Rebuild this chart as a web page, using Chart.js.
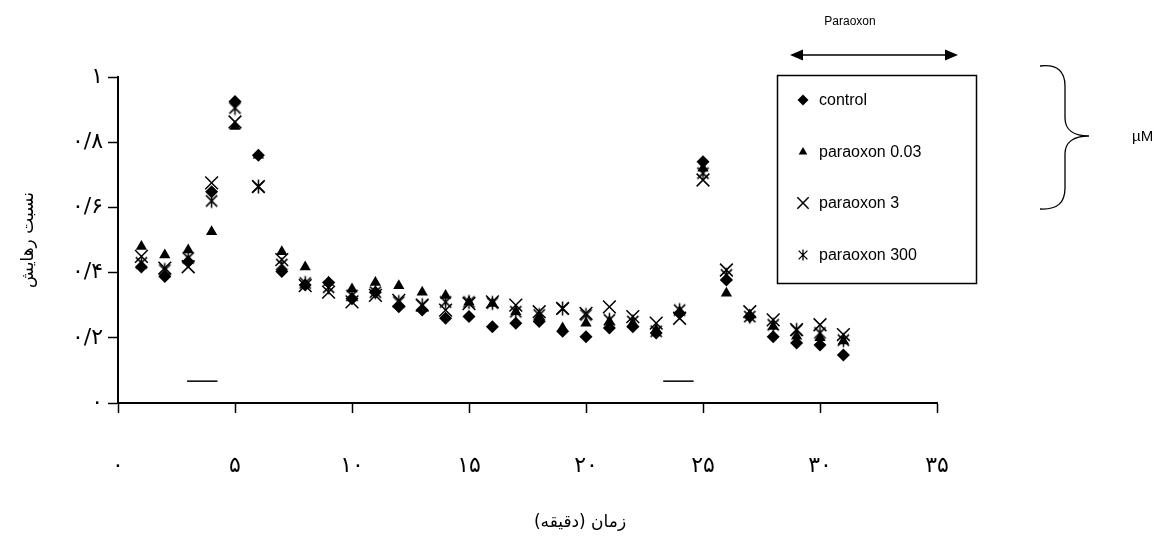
<!DOCTYPE html>
<html>
<head>
<meta charset="utf-8">
<script src="https://cdn.jsdelivr.net/npm/chart.js@4/dist/chart.umd.min.js"></script>
<style>
  html, body { margin: 0; padding: 0; background: #fff; }
  #chart { display: block; }
</style>
</head>
<body>
<canvas id="chart" width="1170" height="553"></canvas>
<script>
// time (minutes)
const minutes = [1, 2, 3, 4, 5, 6, 7, 8, 9, 10, 11, 12, 13, 14, 15, 16,
    17, 18, 19, 20, 21, 22, 23, 24, 25, 26, 27, 28, 29, 30, 31];

const control = [0.417, 0.388, 0.433, 0.648, 0.925, 0.76, 0.403, 0.362, 0.37, 0.32, 0.34,
    0.295, 0.285, 0.26, 0.265, 0.234, 0.245, 0.25, 0.22, 0.203, 0.23, 0.234, 0.215, 0.275,
    0.74, 0.377, 0.265, 0.203, 0.184, 0.178, 0.147];
const paraoxon003 = [0.48, 0.454, 0.469, 0.525, 0.848, 0.76, 0.464, 0.417, 0.37, 0.35, 0.37,
    0.36, 0.34, 0.33, 0.31, 0.305, 0.28, 0.265, 0.23, 0.245, 0.25, 0.245, 0.225, 0.28,
    0.72, 0.337, 0.27, 0.235, 0.205, 0.2, 0.19];
const paraoxon3 = [0.45, 0.414, 0.418, 0.675, 0.862, 0.664, 0.44, 0.36, 0.34, 0.31, 0.33,
    0.315, 0.30, 0.285, 0.305, 0.31, 0.30, 0.28, 0.29, 0.275, 0.295, 0.265, 0.245, 0.26,
    0.684, 0.408, 0.28, 0.255, 0.225, 0.24, 0.21];
const paraoxon300 = [0.43, 0.408, 0.445, 0.62, 0.905, 0.664, 0.425, 0.368, 0.355, 0.33, 0.34,
    0.31, 0.30, 0.31, 0.31, 0.307, 0.28, 0.27, 0.29, 0.27, 0.255, 0.25, 0.22, 0.285,
    0.705, 0.393, 0.265, 0.24, 0.224, 0.215, 0.193];

const seriesNames = ["control", "paraoxon 0.03", "paraoxon 3", "paraoxon 300"];

// stimulation bars (start, end minute) and their level
const stimulus1 = [2.95, 4.25];
const stimulus2 = [23.3, 24.6];
const stimulusLevel = 0.067;

const xTickLabels = ["۰", "۵", "۱۰", "۱۵", "۲۰", "۲۵", "۳۰", "۳۵"];
const yTickLabels = ["۰", "۰/۲", "۰/۴", "۰/۶", "۰/۸", "۱"];

const xTitle = "زمان (دقیقه)";
const yTitle = "نسبت رهایش";

const persianFont = '"DejaVu Sans", sans-serif';
const latinFont = '"Liberation Sans", Arial, sans-serif';

// asterisk marker (x with a vertical bar), like the Excel star
function makeStar(r, lw) {
    const c = document.createElement("canvas");
    const s = Math.ceil(r * 2 + lw * 2);
    c.width = s;
    c.height = s;
    const g = c.getContext("2d");
    const m = s / 2;
    const d = r * 0.8;
    g.strokeStyle = "#000";
    g.lineWidth = lw;
    g.beginPath();
    g.moveTo(m - d, m - d); g.lineTo(m + d, m + d);
    g.moveTo(m + d, m - d); g.lineTo(m - d, m + d);
    g.moveTo(m, m - r); g.lineTo(m, m + r);
    g.stroke();
    return c;
}
const starBig = makeStar(7, 1.5);
const starSmall = makeStar(5.5, 1.3);

function pts(values) {
    return minutes.map((m, i) => ({ x: m, y: values[i] }));
}

const markerStyles = [
    { pointStyle: "rectRot", radius: 6.5, borderWidth: 0, legendRadius: 5.5 },
    { pointStyle: "triangle", radius: 6.5, borderWidth: 0, legendRadius: 5 },
    { pointStyle: "crossRot", radius: 9, borderWidth: 1.5, legendRadius: 8 },
    { pointStyle: starBig, radius: 7, borderWidth: 1.5, legendStyle: starSmall, legendRadius: 6 },
];

const seriesValues = [control, paraoxon003, paraoxon3, paraoxon300];

const datasets = seriesValues.map((vals, i) => ({
    label: seriesNames[i],
    data: pts(vals),
    pointStyle: markerStyles[i].pointStyle,
    pointRadius: markerStyles[i].radius,
    pointBorderWidth: markerStyles[i].borderWidth,
    backgroundColor: "#000",
    borderColor: "#000",
    showLine: false,
}));

[stimulus1, stimulus2].forEach((s) => {
    datasets.push({
        label: "stimulus",
        data: s.map((x) => ({ x: x, y: stimulusLevel })),
        showLine: true,
        borderColor: "#000",
        borderWidth: 1.5,
        pointRadius: 0,
    });
});

// legend box, arrow, brace and free text
const annotations = {
    id: "annotations",
    afterDraw(chart) {
        const ctx = chart.ctx;
        ctx.save();
        ctx.fillStyle = "#000";
        ctx.strokeStyle = "#000";

        // legend
        ctx.lineWidth = 1.5;
        ctx.strokeRect(777.5, 75.5, 199, 208);
        const rows = [100, 152, 203, 255];
        seriesNames.forEach((name, i) => {
            const st = markerStyles[i];
            ctx.lineWidth = st.borderWidth || 1;
            Chart.helpers.drawPoint(ctx, {
                pointStyle: st.legendStyle || st.pointStyle,
                radius: st.legendRadius,
                rotation: 0,
                borderWidth: st.borderWidth,
            }, 803, rows[i]);
            ctx.font = "16px " + latinFont;
            ctx.textAlign = "left";
            ctx.textBaseline = "middle";
            ctx.fillText(name, 819, rows[i] + 1);
        });

        // double arrow
        ctx.lineWidth = 1.5;
        ctx.beginPath();
        ctx.moveTo(798, 55);
        ctx.lineTo(950, 55);
        ctx.stroke();
        ctx.beginPath();
        ctx.moveTo(790, 55); ctx.lineTo(803, 49.5); ctx.lineTo(803, 60.5);
        ctx.closePath();
        ctx.fill();
        ctx.beginPath();
        ctx.moveTo(958, 55); ctx.lineTo(945, 49.5); ctx.lineTo(945, 60.5);
        ctx.closePath();
        ctx.fill();

        ctx.font = "12px " + latinFont;
        ctx.textAlign = "center";
        ctx.textBaseline = "middle";
        ctx.fillText("Paraoxon", 850, 22);

        // curly brace
        ctx.lineWidth = 1.3;
        ctx.beginPath();
        ctx.moveTo(1040, 66);
        ctx.bezierCurveTo(1058, 64, 1065, 72, 1065, 86);
        ctx.lineTo(1065, 118);
        ctx.bezierCurveTo(1065, 130, 1074, 136, 1089, 136);
        ctx.moveTo(1089, 136);
        ctx.bezierCurveTo(1074, 136, 1065, 142, 1065, 154);
        ctx.lineTo(1065, 188);
        ctx.bezierCurveTo(1065, 202, 1058, 210, 1040, 209);
        ctx.stroke();

        ctx.font = "15px " + latinFont;
        ctx.textAlign = "left";
        ctx.fillText("µM", 1132, 137);

        // x axis title
        ctx.font = "17px " + persianFont;
        ctx.direction = "rtl";
        ctx.textAlign = "center";
        ctx.fillText(xTitle, 580, 523);
        ctx.restore();
    },
};

new Chart(document.getElementById("chart"), {
    type: "scatter",
    data: { datasets: datasets },
    options: {
        responsive: false,
        animation: false,
        layout: { padding: { left: 0, top: 77, right: 233, bottom: 0 } },
        plugins: {
            legend: { display: false },
            tooltip: { enabled: false },
        },
        scales: {
            x: {
                type: "linear",
                min: 0,
                max: 35,
                afterFit: (scale) => { scale.height = 150; },
                ticks: {
                    stepSize: 5,
                    color: "#000",
                    padding: 40,
                    maxRotation: 0,
                    font: { size: 22, family: persianFont },
                    callback: (v) => xTickLabels[Math.round(v / 5)],
                },
                grid: {
                    drawOnChartArea: false,
                    tickLength: 10,
                    tickWidth: 1.5,
                    color: "#000",
                },
                border: { color: "#000", width: 2 },
            },
            y: {
                min: 0,
                max: 1,
                afterFit: (scale) => { scale.width = 118; },
                ticks: {
                    stepSize: 0.2,
                    color: "#000",
                    padding: 5,
                    font: { size: 22, family: persianFont },
                    callback: (v) => yTickLabels[Math.round(v * 5)],
                },
                grid: {
                    drawOnChartArea: false,
                    tickLength: 10,
                    tickWidth: 1.5,
                    color: "#000",
                },
                border: { color: "#000", width: 2 },
                title: {
                    display: true,
                    text: yTitle,
                    color: "#000",
                    font: { size: 17, family: persianFont },
                    padding: { top: 18, bottom: 0 },
                },
            },
        },
    },
    plugins: [annotations],
});
</script>
</body>
</html>
